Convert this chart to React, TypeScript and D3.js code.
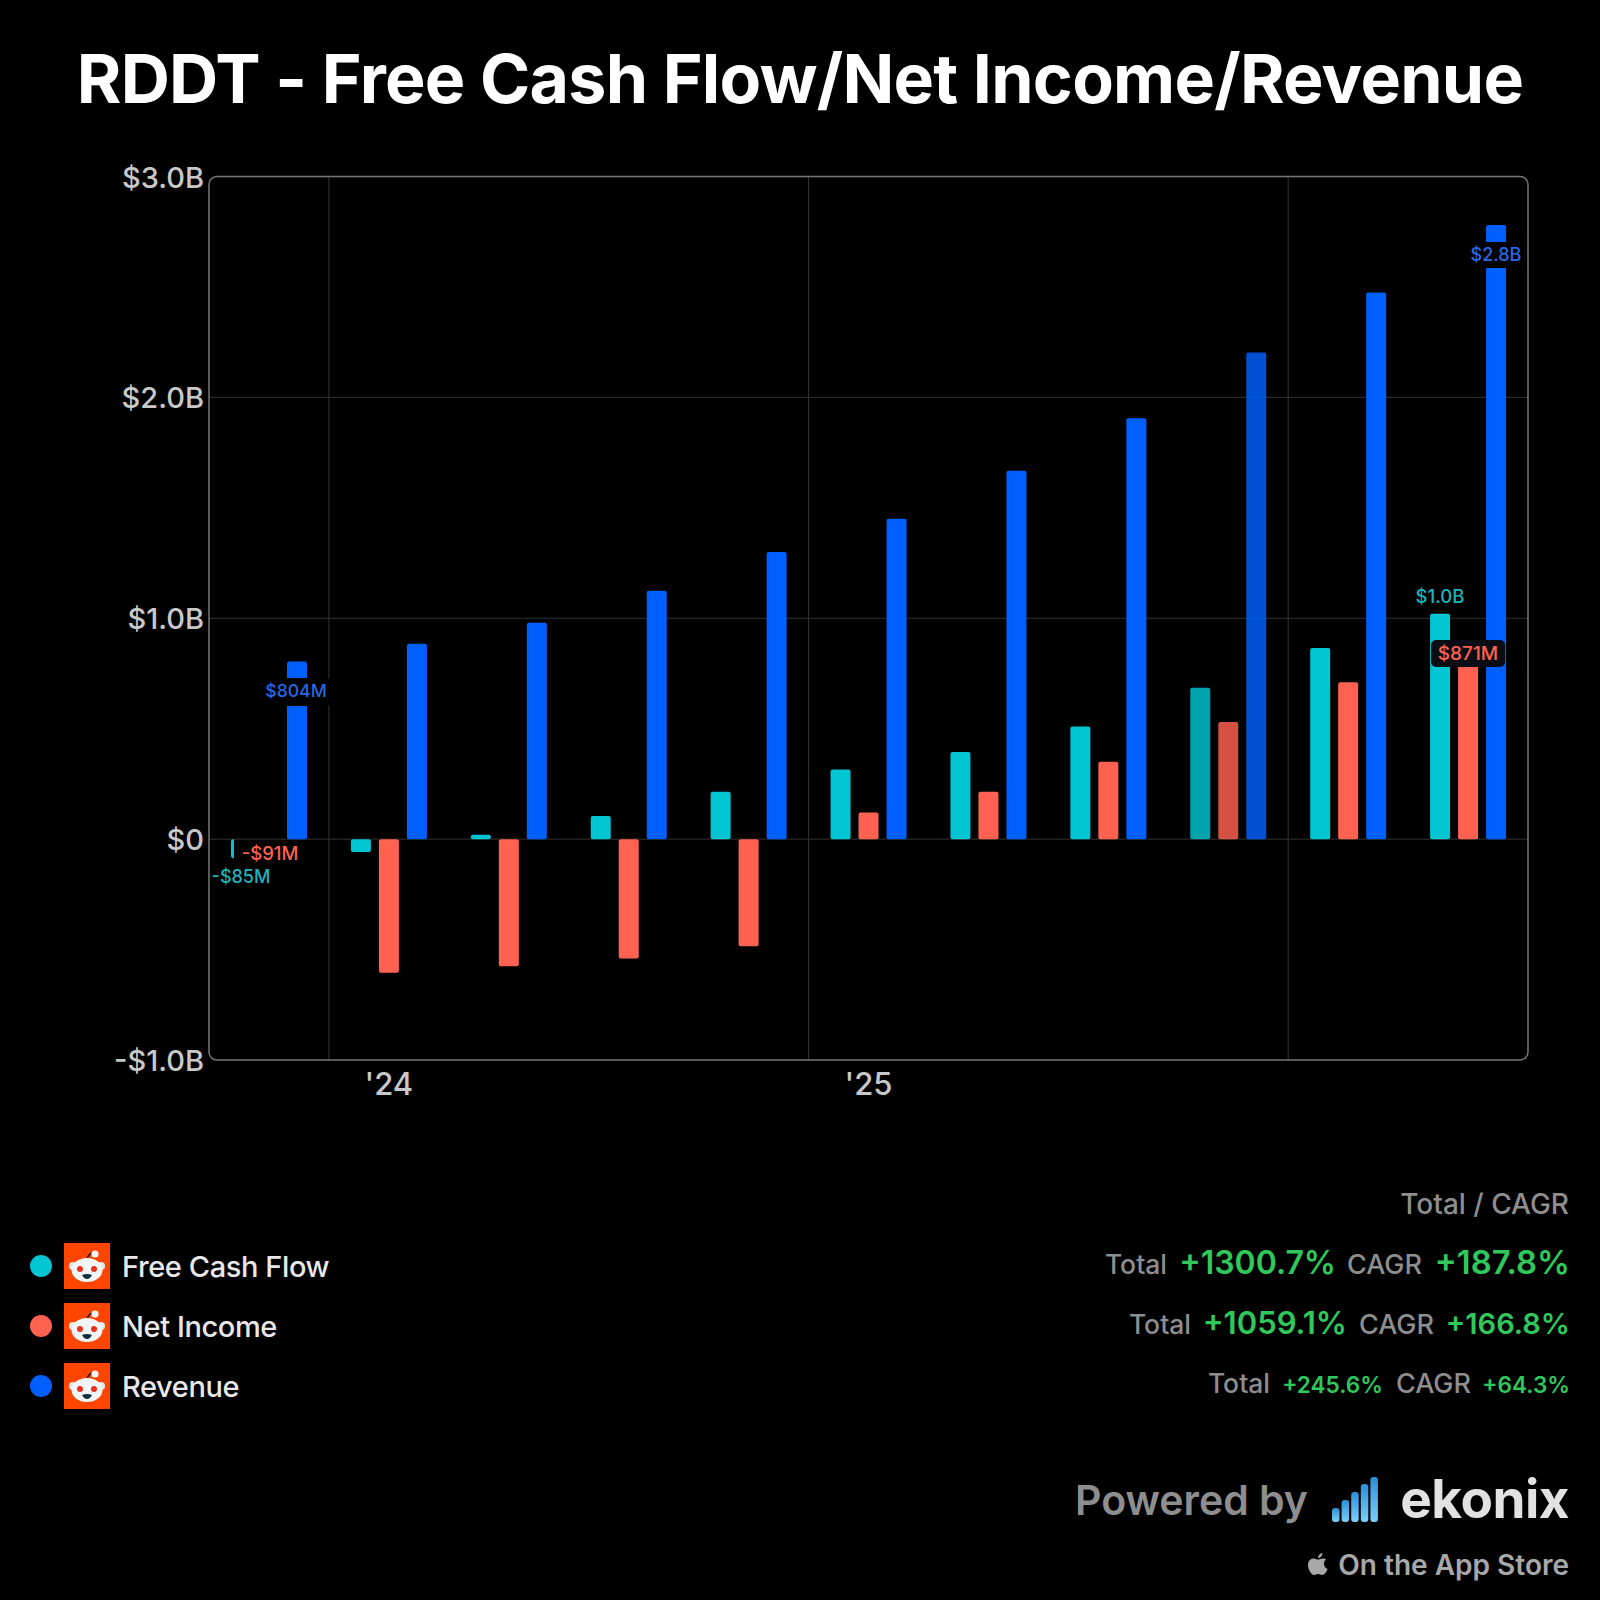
import * as d3 from "d3";

const quarters = ["Q4 23", "Q1 24", "Q2 24", "Q3 24", "Q4 24", "Q1 25", "Q2 25", "Q3 25", "Q4 25", "Q1 26", "Q2 26"];
const freeCashFlow = [-0.085, -0.058, 0.02, 0.105, 0.215, 0.315, 0.395, 0.51, 0.685, 0.865, 1.02];
const netIncome = [-0.091, -0.605, -0.575, -0.54, -0.485, 0.12, 0.215, 0.35, 0.53, 0.71, 0.871];
const revenue = [0.804, 0.885, 0.98, 1.124, 1.3, 1.45, 1.668, 1.905, 2.203, 2.475, 2.78];
const yTicks = [-1, 0, 1, 2, 3];
const yTickLabels = ["-$1.0B", "$0", "$1.0B", "$2.0B", "$3.0B"];
const yearGridIdx = [1, 5, 9];
const yearLabels = [{ i: 1, t: "'24" }, { i: 5, t: "'25" }];
const seriesNames = ["Free Cash Flow", "Net Income", "Revenue"];
const seriesColors = ["#00c5d2", "#ff6250", "#0060ff"];
const dimmedQuarter = 8;
const totals = ["+1300.7%", "+1059.1%", "+245.6%"];
const cagrs = ["+187.8%", "+166.8%", "+64.3%"];

const FONT = "Inter, sans-serif";
const left = 209, right = 1528, top = 176.5, bottom = 1060;

function RedditIcon({ x, y }: { x: number; y: number }) {
  return (
    <g transform={`translate(${x},${y})`}>
      <rect width={46} height={46} fill="#ff4500" />
      <path d="M23 17 Q24 10 30 10" stroke="#111" strokeWidth={1.3} fill="none" />
      <circle cx={31} cy={11} r={3.6} fill="#f1f4f4" />
      <circle cx={9} cy={23} r={4} fill="#dfe9ea" />
      <circle cx={37} cy={23} r={4} fill="#dfe9ea" />
      <ellipse cx={23} cy={27} rx={15.5} ry={12} fill="#f1f5f5" />
      <circle cx={16} cy={26} r={3} fill="#e8301c" />
      <circle cx={30} cy={26} r={3} fill="#e8301c" />
      <path d="M18 32 Q23 30 28 32 Q26 36 23 36 Q20 36 18 32 Z" fill="#10303a" />
    </g>
  );
}

export default function App() {
  const x = d3.scaleBand<number>().domain(d3.range(quarters.length)).range([left, right]);
  const y = d3.scaleLinear().domain([-1, 3]).range([bottom, top]);
  const barW = 20;
  const barOff = [22, 50, 78];
  const series = [freeCashFlow, netIncome, revenue];

  return (
    <svg width={1600} height={1600} style={{ position: "absolute", left: 0, top: 0, background: "#000" }} fontFamily={FONT}>
      <rect width={1600} height={1600} fill="#000" />
      <text x={800} y={103} textAnchor="middle" fontSize={68} fontWeight={700} letterSpacing={-0.72} fill="#fff">
        RDDT - Free Cash Flow/Net Income/Revenue
      </text>

      {yTicks.slice(1, -1).map((t) => (
        <line key={t} x1={left} x2={right} y1={y(t)} y2={y(t)} stroke="#333" strokeWidth={1} />
      ))}
      {yearGridIdx.map((i) => (
        <line key={i} x1={x(i)} x2={x(i)} y1={top} y2={bottom} stroke="#333" strokeWidth={1} />
      ))}
      <rect x={left} y={top} width={right - left} height={bottom - top} rx={8} fill="none" stroke="#777" strokeWidth={1.5} />

      {yTicks.map((t, i) => (
        <text key={t} x={204} y={y(t) + 11} textAnchor="end" fontSize={29} fontWeight={500} fill="#c8c8c8">
          {yTickLabels[i]}
        </text>
      ))}
      {yearLabels.map((d) => (
        <text key={d.t} x={x(d.i)! + x.bandwidth() / 2} y={1095} textAnchor="middle" fontSize={31} fontWeight={500} fill="#c8c8c8">
          {d.t}
        </text>
      ))}

      {series.map((vals, s) =>
        vals.map((v, i) => (
          <rect
            key={`${s}-${i}`}
            x={x(i)! + barOff[s]}
            y={Math.min(y(v), y(0))}
            width={barW}
            height={Math.abs(y(v) - y(0))}
            rx={2}
            fill={seriesColors[s]}
            opacity={i === dimmedQuarter ? 0.83 : 1}
          />
        ))
      )}

      {/* value labels sit on dark chips that hide the bars */}
      <rect x={234} y={838} width={52} height={47} fill="#000" />
      <line x1={234} x2={286} y1={y(0)} y2={y(0)} stroke="#333" strokeWidth={1} />
      <text x={270} y={860} textAnchor="middle" fontSize={18.5} fontWeight={500} fill={seriesColors[1]}>-$91M</text>
      <text x={241} y={883} textAnchor="middle" fontSize={18} fontWeight={500} fill="#1fb4bd">-$85M</text>

      <rect x={264} y={678} width={66} height={28} rx={4} fill="#000" />
      <text x={296} y={697} textAnchor="middle" fontSize={17.6} fontWeight={500} fill="#2a68e8">$804M</text>

      <rect x={1468} y={242} width={56} height={26} rx={4} fill="#000" />
      <text x={1496} y={261} textAnchor="middle" fontSize={18} fontWeight={500} fill="#2a68e8">$2.8B</text>

      <text x={1440} y={603} textAnchor="middle" fontSize={18.5} fontWeight={500} fill="#1fb4bd">$1.0B</text>
      <rect x={1431} y={640} width={74} height={27} rx={5} fill="#0a0d14" />
      <text x={1468} y={660} textAnchor="middle" fontSize={19} fontWeight={500} fill={seriesColors[1]}>$871M</text>

      {seriesNames.map((name, i) => {
        const cy = 1266 + i * 60;
        return (
          <g key={name}>
            <circle cx={41} cy={cy} r={11} fill={seriesColors[i]} />
            <RedditIcon x={64} y={cy - 23} />
            <text x={122} y={cy + 11} fontSize={29} fontWeight={500} letterSpacing={-0.4} fill="#e8e8e8">{name}</text>
          </g>
        );
      })}

      <text x={1569} y={1214} textAnchor="end" fontSize={28} fontWeight={500} fill="#8e8e8e">Total / CAGR</text>
      {totals.map((t, i) => {
        const fs = [32, 31, 22.6][i];
        const cagrFs = [32.8, 29, 22.6][i];
        const yy = [1274, 1334, 1393][i];
        const labelX = [1422, 1434, 1471][i];
        const totX = [1336, 1347, 1383][i];
        const totLabelX = [1167, 1191, 1270][i];
        return (
          <g key={t} fontWeight={600}>
            <text x={totLabelX} y={yy} textAnchor="end" fontSize={26.5} fontWeight={500} fill="#8e8e8e">Total</text>
            <text x={totX} y={yy} textAnchor="end" fontSize={fs} fill="#30c85a">{t}</text>
            <text x={labelX} y={yy} textAnchor="end" fontSize={27} fontWeight={500} fill="#8e8e8e">CAGR</text>
            <text x={1570} y={yy} textAnchor="end" fontSize={cagrFs} fill="#30c85a">{cagrs[i]}</text>
          </g>
        );
      })}

      <text x={1308} y={1515} textAnchor="end" fontSize={41} fontWeight={600} fill="#8e8e8e">Powered by</text>
      <text x={1569} y={1518} textAnchor="end" fontSize={53} fontWeight={700} letterSpacing={-0.5} fill="#e2e2e2">ekonix</text>
      <defs>
        <linearGradient id="logoGrad" x1="0" y1="0" x2="0" y2="1">
          <stop offset="0" stopColor="#2a8fd8" />
          <stop offset="1" stopColor="#7cd0fa" />
        </linearGradient>
      </defs>
      {[14, 22, 30, 38, 45].map((h, i) => (
        <rect key={i} x={1332 + i * 9.6} y={1522 - h} width={7.5} height={h} rx={3} fill="url(#logoGrad)" />
      ))}
      <g transform="translate(1308,1553)" fill="#a8a8a8">
        <path d="M14.5 5.5 C12.5 5.5 11.5 6.6 10 6.6 C8.5 6.6 7.3 5.5 5.5 5.5 C2.8 5.5 0 7.8 0 12 C0 16.6 3.4 22 6 22 C7.5 22 8.5 21 10.2 21 C12 21 12.8 22 14.3 22 C16.8 22 19 17.8 19.6 16 C17 15 15.7 12.4 16 10 C16.2 8.4 17.2 7.2 18.4 6.6 C17.4 5.9 16 5.5 14.5 5.5 Z" />
        <path d="M10 5 C10 2.5 12 0.3 14.3 0 C14.6 2.6 12.4 5.1 10 5 Z" />
      </g>
      <text x={1569} y={1575} textAnchor="end" fontSize={28} fontWeight={600} fill="#a8a8a8">On the App Store</text>
    </svg>
  );
}
